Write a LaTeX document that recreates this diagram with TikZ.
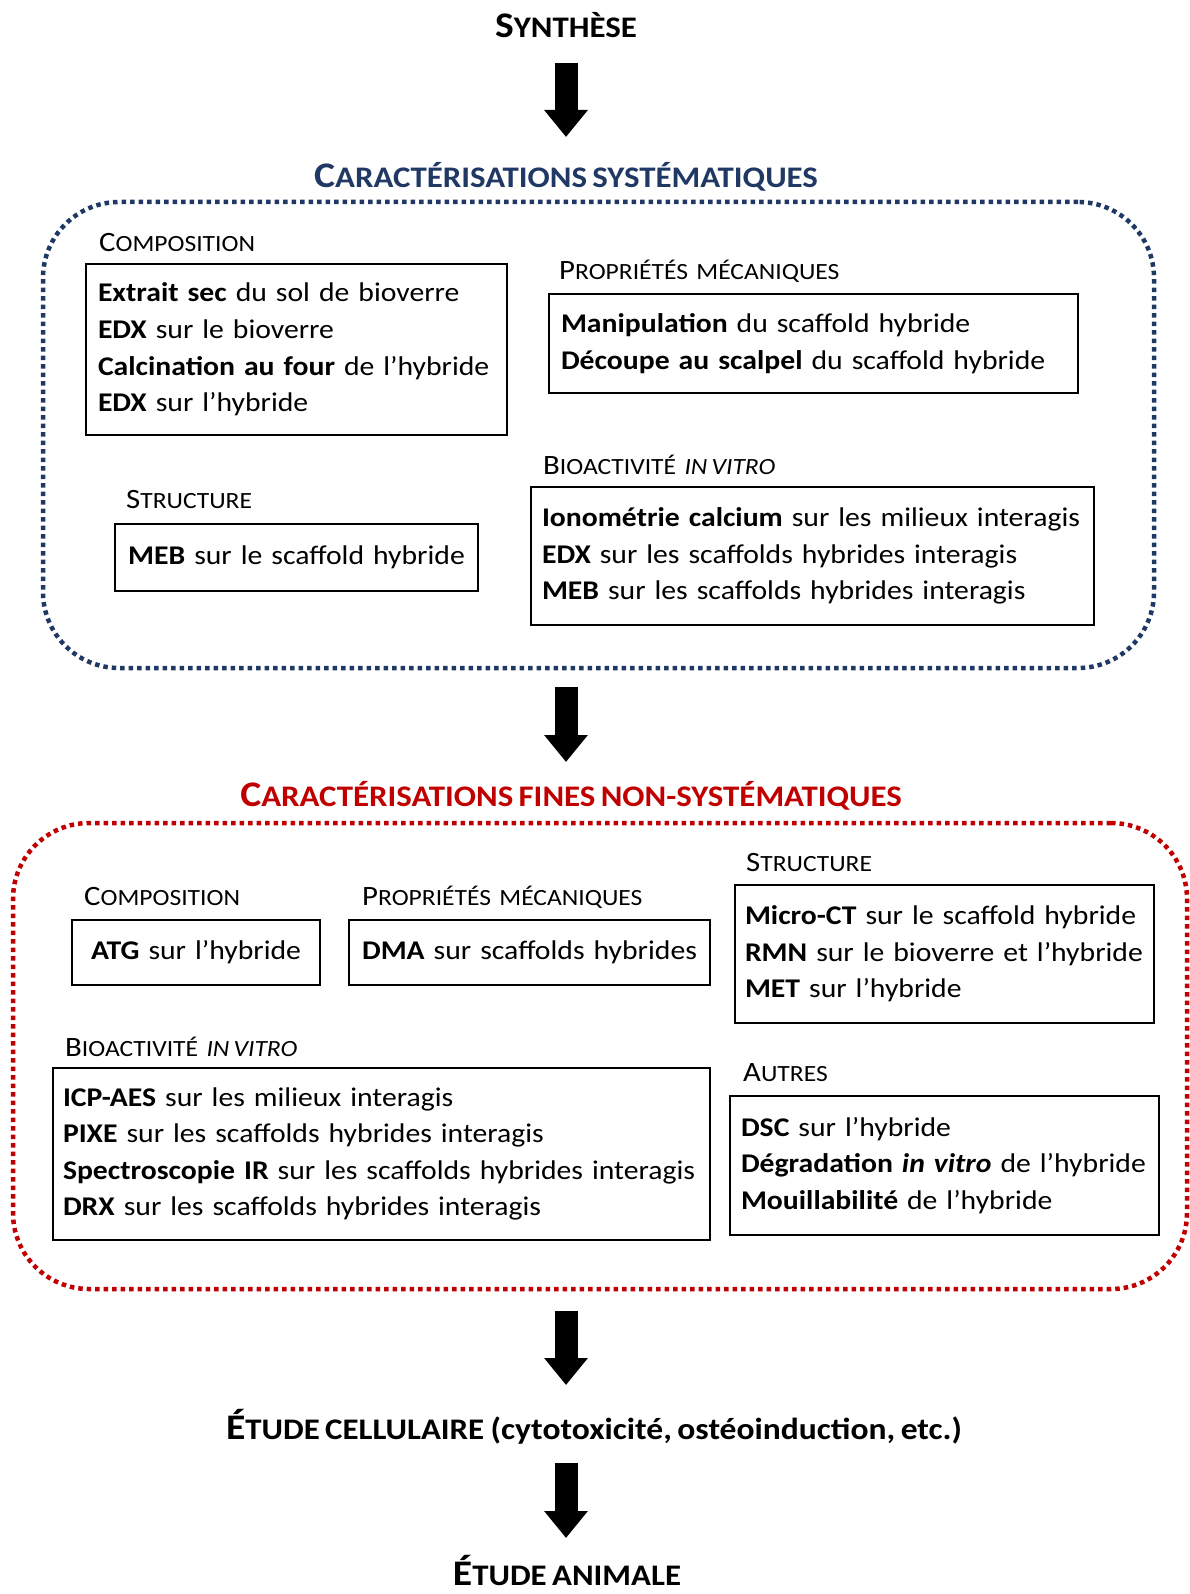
\documentclass[tikz,border=0pt]{standalone}
\usepackage{fontspec}
\usepackage{graphicx}
\setmainfont{Carlito}[FakeStretch=1.1, WordSpace=0.72]
\usetikzlibrary{arrows.meta,positioning}

\definecolor{sysblue}{HTML}{203864}
\definecolor{finered}{HTML}{C00000}

% fake small caps
\newcommand\fsc[2]{#1\scalebox{0.83}{#2}}
\newcommand\bodyfont{\fontsize{27}{36.6}\selectfont}
\newcommand\catfont{\fontsize{28}{30}\selectfont}
\newcommand\headfont{\fontsize{36}{40}\selectfont\bfseries}

\tikzset{
  dotbox/.style={line width=4.5pt, dash pattern=on 4.5pt off 4pt, rounded corners=76pt,
                 anchor=north west, outer sep=0pt, inner sep=0pt},
  mbox/.style={draw, line width=2.8pt, anchor=north west, outer sep=0pt,
               inner xsep=12pt, inner ysep=0pt, align=left, font=\bodyfont},
  catlabel/.style={anchor=base west, inner sep=0pt, font=\catfont},
  headtitle/.style={anchor=base, inner sep=0pt, font=\headfont},
  bigarrow/.style={line width=23pt, -{Triangle[length=27pt,width=42pt]}},
}

\begin{document}
\begin{tikzpicture}[x=1pt,y=-1pt]
\useasboundingbox (0,0) rectangle (1190,1594);

% titres
\node[headtitle] (synth) at (566,37.6) {\fsc{S}{YNTHÈSE}};
\node[headtitle, text=sysblue] (systitle) at (566,188) {\fsc{C}{ARACTÉRISATIONS SYSTÉMATIQUES}};
\node[headtitle, text=finered] (finetitle) at (571,806) {\fsc{C}{ARACTÉRISATIONS FINES NON-SYSTÉMATIQUES}};
\node[headtitle] (cellule) at (594,1439) {\fsc{É}{TUDE CELLULAIRE} {\fontsize{30.5}{36}\selectfont(cytotoxicité, ostéoinduction, etc.)}};
\node[headtitle] (animale) at (567,1585) {\fsc{É}{TUDE ANIMALE}};

% caracterisations systematiques
\node[dotbox, draw=sysblue, minimum width=1111pt, minimum height=466pt] (sysbox) at (43,202) {};

\node[catlabel] (compsyslab) at (99,252) {\fsc{C}{OMPOSITION}};
\node[mbox, text width=397pt, minimum height=171pt] (compsys) at (86,264)
  {\textbf{Extrait sec} du sol de bioverre\\
   \textbf{EDX} sur le bioverre\\
   \textbf{Calcination au four} de l'hybride\\
   \textbf{EDX} sur l'hybride};

\node[catlabel] (mecasyslab) at (559,280) {\fsc{P}{ROPRIÉTÉS\ \ MÉCANIQUES}};
\node[mbox, text width=505pt, minimum height=99pt] (mecasys) at (549,294)
  {\textbf{Manipulation} du scaffold hybride\\
   \textbf{Découpe au scalpel} du scaffold hybride};

\node[catlabel] (biosyslab) at (543,474) {\fsc{B}{IOACTIVITÉ\ \ \textit{IN VITRO}}};
\node[mbox, text width=541pt, minimum height=138pt, inner xsep=11pt] (biosys) at (531,487)
  {\textbf{Ionométrie calcium} sur les milieux interagis\\
   \textbf{EDX} sur les scaffolds hybrides interagis\\
   \textbf{MEB} sur les scaffolds hybrides interagis};

\node[catlabel] (structsyslab) at (126,508) {\fsc{S}{TRUCTURE}};
\node[mbox, text width=343pt, minimum height=67pt, inner xsep=10pt, align=center] (structsys) at (115,524)
  {\textbf{MEB} sur le scaffold hybride};

% caracterisations fines
\node[dotbox, draw=finered, minimum width=1174pt, minimum height=466pt] (finebox) at (13,823) {};

\node[catlabel] (compfinelab) at (84,905) {\fsc{C}{OMPOSITION}};
\node[mbox, text width=224pt, minimum height=65pt, align=center] (compfine) at (72,920)
  {\textbf{ATG} sur l'hybride};

\node[catlabel] (mecafinelab) at (362,905) {\fsc{P}{ROPRIÉTÉS\ \ MÉCANIQUES}};
\node[mbox, text width=341pt, minimum height=65pt, inner xsep=10pt, align=center] (mecafine) at (349,920)
  {\textbf{DMA} sur scaffolds hybrides};

\node[catlabel] (structfinelab) at (746,871) {\fsc{S}{TRUCTURE}};
\node[mbox, text width=399pt, minimum height=138pt, inner xsep=10pt] (structfine) at (735,885)
  {\textbf{Micro-CT} sur le scaffold hybride\\
   \mbox{\textbf{RMN} sur le bioverre et l'hybride}\\
   \textbf{MET} sur l'hybride};

\node[catlabel] (biofinelab) at (65,1056) {\fsc{B}{IOACTIVITÉ\ \ \textit{IN VITRO}}};
\node[mbox, text width=637pt, minimum height=172pt, inner xsep=10pt] (biofine) at (53,1068)
  {\textbf{ICP-AES} sur les milieux interagis\\
   \textbf{PIXE} sur les scaffolds hybrides interagis\\
   \textbf{Spectroscopie IR} sur les scaffolds hybrides interagis\\
   \textbf{DRX} sur les scaffolds hybrides interagis};

\node[catlabel] (autreslab) at (743,1081) {\fsc{A}{UTRES}};
\node[mbox, text width=407pt, minimum height=139pt, inner xsep=11pt] (autres) at (730,1096)
  {\textbf{DSC} sur l'hybride\\
   \textbf{Dégradation \textit{in vitro}} de l'hybride\\
   \textbf{Mouillabilité} de l'hybride};

% fleches
\draw[bigarrow, shorten <=25pt, shorten >=51pt] (synth.base) -- (synth.base |- systitle.base);
\draw[bigarrow, shorten <=19pt, shorten >=44pt] (sysbox.south -| synth) -- (synth |- finetitle.base);
\draw[bigarrow, shorten <=22pt, shorten >=54pt] (finebox.south -| synth) -- (synth |- cellule.base);
\draw[bigarrow, shorten <=24pt, shorten >=47pt] (synth |- cellule.base) -- (synth |- animale.base);
\end{tikzpicture}
\end{document}
